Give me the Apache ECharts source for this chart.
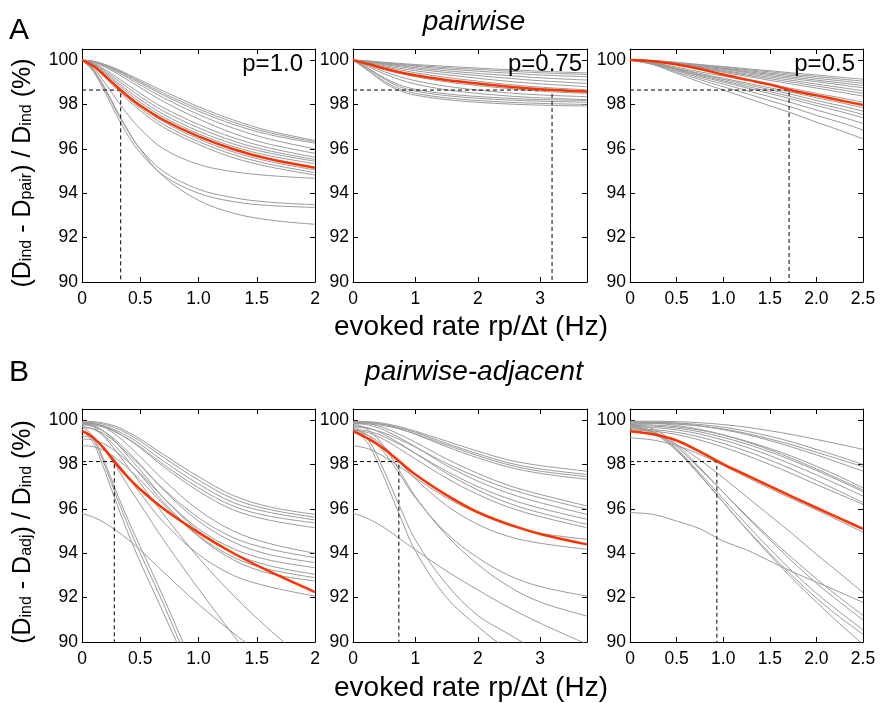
<!DOCTYPE html>
<html><head><meta charset="utf-8">
<script src="https://cdn.jsdelivr.net/npm/echarts@6/dist/echarts.min.js"></script>
<style>html,body{margin:0;padding:0;background:#fff}#c{width:880px;height:703px}</style>
</head><body><div id="c"></div>
<script>
// ---------- data ----------
var A1x = [0, 0.1, 0.2, 0.3, 0.4, 0.5, 0.7, 1.0, 1.3, 1.6, 2.0];
var A1red = [100, 99.72, 99.28, 98.8, 98.35, 97.95, 97.3, 96.56, 95.98, 95.55, 95.15];
var A1gray = [
  [100, 99.95, 99.8, 99.6, 99.35, 99.1, 98.6, 97.9, 97.3, 96.82, 96.38],
  [100, 99.94, 99.78, 99.56, 99.3, 99.03, 98.5, 97.8, 97.2, 96.74, 96.32],
  [100, 99.93, 99.75, 99.52, 99.25, 98.97, 98.42, 97.7, 97.1, 96.65, 96.26],
  [100, 99.92, 99.72, 99.47, 99.18, 98.88, 98.3, 97.55, 96.93, 96.45, 96.0],
  [100, 99.9, 99.68, 99.4, 99.08, 98.76, 98.13, 97.35, 96.7, 96.22, 95.8],
  [100, 99.86, 99.57, 99.22, 98.86, 98.5, 97.85, 97.1, 96.5, 96.05, 95.62],
  [100, 99.83, 99.5, 99.12, 98.73, 98.36, 97.7, 96.95, 96.35, 95.92, 95.52],
  [100, 99.81, 99.44, 99.02, 98.6, 98.22, 97.55, 96.8, 96.22, 95.82, 95.44],
  [100, 99.78, 99.38, 98.94, 98.5, 98.1, 97.43, 96.68, 96.1, 95.7, 95.33],
  [100, 99.75, 99.3, 98.82, 98.35, 97.93, 97.22, 96.45, 95.86, 95.44, 95.05],
  [100, 99.72, 99.25, 98.74, 98.26, 97.83, 97.1, 96.33, 95.74, 95.32, 94.93],
  [100, 99.7, 99.2, 98.67, 98.17, 97.72, 96.97, 96.2, 95.6, 95.2, 94.82],
  [100, 99.62, 98.95, 98.2, 97.5, 96.9, 96.0, 95.3, 94.97, 94.8, 94.67],
  [100, 99.52, 98.65, 97.65, 96.75, 96.0, 94.98, 94.18, 93.8, 93.6, 93.48],
  [100, 99.46, 98.52, 97.48, 96.56, 95.82, 94.8, 94.0, 93.62, 93.45, 93.36],
  [100, 99.56, 98.72, 97.72, 96.78, 95.97, 94.75, 93.68, 93.1, 92.8, 92.6]
];

var A2x = [0, 0.25, 0.5, 0.75, 1.0, 1.5, 2.0, 2.5, 3.0, 3.75];
var A2red = [100, 99.82, 99.62, 99.45, 99.32, 99.1, 98.94, 98.8, 98.69, 98.58];
var A2gray = [
  [100, 99.96, 99.9, 99.85, 99.8, 99.72, 99.64, 99.57, 99.5, 99.42],
  [100, 99.95, 99.88, 99.82, 99.76, 99.66, 99.58, 99.5, 99.43, 99.35],
  [100, 99.94, 99.86, 99.79, 99.72, 99.6, 99.5, 99.41, 99.33, 99.25],
  [100, 99.92, 99.83, 99.75, 99.66, 99.52, 99.4, 99.3, 99.2, 99.1],
  [100, 99.9, 99.8, 99.7, 99.6, 99.44, 99.3, 99.18, 99.07, 98.95],
  [100, 99.88, 99.75, 99.63, 99.52, 99.34, 99.18, 99.04, 98.93, 98.8],
  [100, 99.86, 99.7, 99.56, 99.43, 99.22, 99.05, 98.9, 98.78, 98.66],
  [100, 99.8, 99.58, 99.4, 99.25, 99.02, 98.85, 98.72, 98.6, 98.5],
  [100, 99.75, 99.48, 99.25, 99.07, 98.82, 98.65, 98.52, 98.43, 98.35],
  [100, 99.7, 99.38, 99.12, 98.92, 98.66, 98.5, 98.38, 98.3, 98.22],
  [100, 99.6, 99.15, 98.8, 98.6, 98.4, 98.28, 98.2, 98.15, 98.1],
  [100, 99.55, 99.05, 98.7, 98.5, 98.3, 98.18, 98.1, 98.05, 98.0],
  [100, 99.5, 98.98, 98.62, 98.42, 98.22, 98.1, 98.02, 97.97, 97.93],
  [100, 99.62, 99.2, 98.88, 98.68, 98.48, 98.36, 98.28, 98.22, 98.18]
];

var A3x = [0, 0.25, 0.5, 0.75, 1.0, 1.25, 1.5, 1.75, 2.0, 2.25, 2.5];
var A3red = [100, 99.95, 99.8, 99.6, 99.35, 99.12, 98.9, 98.62, 98.41, 98.19, 97.98];
var A3gray = [
  [100, 99.97, 99.9, 99.8, 99.71, 99.61, 99.52, 99.42, 99.33, 99.23, 99.14],
  [100, 99.97, 99.89, 99.78, 99.68, 99.57, 99.47, 99.36, 99.26, 99.15, 99.05],
  [100, 99.97, 99.87, 99.76, 99.64, 99.53, 99.41, 99.3, 99.18, 99.07, 98.95],
  [100, 99.97, 99.86, 99.74, 99.61, 99.48, 99.36, 99.23, 99.1, 98.98, 98.85],
  [100, 99.96, 99.85, 99.71, 99.58, 99.44, 99.3, 99.16, 99.03, 98.89, 98.75],
  [100, 99.96, 99.83, 99.68, 99.53, 99.38, 99.23, 99.08, 98.92, 98.77, 98.62],
  [100, 99.96, 99.82, 99.66, 99.49, 99.33, 99.16, 99.0, 98.83, 98.67, 98.5],
  [100, 99.95, 99.81, 99.63, 99.45, 99.27, 99.09, 98.91, 98.74, 98.56, 98.38],
  [100, 99.89, 99.68, 99.47, 99.28, 99.09, 98.9, 98.71, 98.5, 98.31, 98.1],
  [100, 99.87, 99.63, 99.4, 99.18, 98.97, 98.75, 98.54, 98.3, 98.09, 97.85],
  [100, 99.86, 99.61, 99.36, 99.13, 98.9, 98.67, 98.44, 98.18, 97.95, 97.7],
  [100, 99.85, 99.58, 99.31, 99.07, 98.82, 98.58, 98.33, 98.06, 97.82, 97.55],
  [100, 99.84, 99.56, 99.27, 99.01, 98.75, 98.49, 98.23, 97.95, 97.69, 97.4],
  [100, 99.83, 99.52, 99.2, 98.92, 98.63, 98.35, 98.06, 97.75, 97.46, 97.15],
  [100, 99.81, 99.46, 99.12, 98.8, 98.49, 98.17, 97.86, 97.51, 97.2, 96.85],
  [100, 99.79, 99.4, 99.01, 98.65, 98.3, 97.94, 97.59, 97.2, 96.84, 96.45]
];

var B1x = [0, 0.1, 0.2, 0.3, 0.4, 0.5, 0.7, 1.0, 1.3, 1.6, 2.0];
var B1red = [99.5, 99.2, 98.65, 97.98, 97.4, 96.88, 96.0, 94.93, 94.0, 93.2, 92.25];
var B1gray = [
  [99.95, 99.93, 99.85, 99.7, 99.45, 99.15, 98.45, 97.45, 96.6, 96.1, 95.75],
  [99.9, 99.88, 99.8, 99.62, 99.37, 99.05, 98.32, 97.3, 96.45, 95.98, 95.62],
  [99.85, 99.82, 99.72, 99.52, 99.25, 98.92, 98.15, 97.12, 96.28, 95.85, 95.5],
  [99.8, 99.78, 99.65, 99.43, 99.14, 98.8, 98.0, 96.95, 96.12, 95.68, 95.37],
  [99.88, 99.84, 99.7, 99.45, 99.12, 98.75, 97.9, 96.8, 95.95, 95.5, 95.15],
  [99.9, 99.85, 99.65, 99.3, 98.85, 98.35, 97.3, 95.95, 95.0, 94.45, 94.0],
  [99.7, 99.6, 99.35, 98.95, 98.45, 97.95, 96.9, 95.6, 94.7, 94.2, 93.8],
  [99.8, 99.7, 99.45, 99.05, 98.55, 98.0, 96.85, 95.45, 94.5, 93.95, 93.58],
  [99.15, 99.1, 98.9, 98.55, 98.1, 97.6, 96.5, 95.1, 94.2, 93.7, 93.35],
  [99.85, 99.75, 99.45, 98.95, 98.35, 97.75, 96.5, 95.0, 94.0, 93.45, 93.05],
  [99.7, 99.58, 99.25, 98.75, 98.15, 97.55, 96.3, 94.8, 93.82, 93.28, 92.9],
  [98.85, 98.8, 98.6, 98.25, 97.8, 97.3, 96.2, 94.75, 93.7, 93.1, 92.75],
  [99.3, 99.15, 98.7, 98.1, 97.4, 96.7, 95.4, 93.95, 93.0, 92.5, 92.07],
  [99.7, 99.1, 97.9, 96.5, 95.2, 94.0, 91.7, 88.0, 84.5, 81.0, 76.0],
  [99.6, 98.95, 97.65, 96.2, 94.85, 93.6, 91.3, 87.8, 84.2, 80.5, 75.5],
  [99.8, 99.2, 98.05, 96.7, 95.45, 94.3, 92.0, 88.4, 85.0, 81.5, 77.0],
  [99.5, 99.2, 98.6, 97.85, 97.0, 96.2, 94.6, 92.4, 90.3, 88.3, 86.0],
  [99.9, 99.7, 99.2, 98.55, 97.85, 97.15, 95.75, 93.8, 92.1, 90.6, 88.8],
  [95.8, 95.62, 95.35, 95.0, 94.6, 94.15, 93.15, 91.7, 90.4, 89.2, 87.6]
];

var B2x = [0, 0.25, 0.5, 0.75, 1.0, 1.5, 2.0, 2.5, 3.0, 3.75];
var B2red = [99.5, 99.15, 98.7, 98.12, 97.55, 96.62, 95.85, 95.3, 94.87, 94.4];
var B2gray = [
  [99.95, 99.93, 99.85, 99.7, 99.5, 99.05, 98.6, 98.2, 97.95, 97.7],
  [99.9, 99.88, 99.8, 99.65, 99.45, 98.95, 98.48, 98.07, 97.8, 97.55],
  [99.85, 99.83, 99.75, 99.6, 99.38, 98.88, 98.4, 97.98, 97.7, 97.45],
  [99.92, 99.9, 99.8, 99.6, 99.36, 98.8, 98.3, 97.88, 97.6, 97.33],
  [99.9, 99.85, 99.65, 99.35, 99.0, 98.25, 97.6, 97.05, 96.65, 96.13],
  [99.7, 99.62, 99.42, 99.12, 98.78, 98.05, 97.42, 96.9, 96.5, 95.98],
  [99.85, 99.78, 99.55, 99.2, 98.8, 97.95, 97.25, 96.7, 96.28, 95.75],
  [99.6, 99.5, 99.25, 98.9, 98.5, 97.7, 97.0, 96.45, 96.03, 95.53],
  [99.75, 99.65, 99.35, 98.95, 98.5, 97.6, 96.85, 96.25, 95.82, 95.3],
  [99.55, 99.43, 99.12, 98.7, 98.25, 97.38, 96.65, 96.07, 95.65, 95.15],
  [98.85, 98.7, 98.35, 97.9, 97.4, 96.5, 95.8, 95.25, 94.9, 94.63],
  [99.5, 99.3, 98.8, 98.1, 97.35, 96.15, 95.3, 94.75, 94.45, 94.18],
  [99.7, 98.9, 97.4, 95.7, 94.1, 92.0, 90.7, 89.6, 88.7, 87.5],
  [99.8, 99.1, 97.7, 96.1, 94.6, 92.6, 91.2, 90.35, 89.5, 88.1],
  [99.6, 99.3, 98.55, 97.55, 96.5, 94.9, 93.8, 93.0, 92.5, 92.07],
  [99.85, 99.55, 98.8, 97.7, 96.55, 94.8, 93.5, 92.5, 91.8, 91.17],
  [95.8, 95.55, 95.15, 94.65, 94.15, 93.2, 92.35, 91.55, 90.85, 89.9]
];

var B3x = [0, 0.25, 0.5, 0.75, 1.0, 1.25, 1.5, 1.75, 2.0, 2.25, 2.5];
var B3red = [99.5, 99.36, 99.08, 98.58, 98.02, 97.52, 97.02, 96.53, 96.05, 95.57, 95.1];
var B3gray = [
  [99.95, 99.95, 99.93, 99.88, 99.8, 99.68, 99.52, 99.34, 99.13, 98.91, 98.68],
  [99.9, 99.9, 99.87, 99.8, 99.68, 99.5, 99.27, 99.0, 98.68, 98.35, 98.0],
  [99.85, 99.85, 99.82, 99.73, 99.6, 99.4, 99.15, 98.87, 98.55, 98.23, 97.9],
  [99.92, 99.91, 99.85, 99.74, 99.57, 99.35, 99.08, 98.77, 98.43, 98.07, 97.7],
  [99.8, 99.78, 99.7, 99.55, 99.33, 99.05, 98.72, 98.35, 97.92, 97.45, 96.95],
  [99.88, 99.86, 99.76, 99.58, 99.33, 99.02, 98.66, 98.25, 97.8, 97.33, 96.85],
  [99.75, 99.73, 99.64, 99.47, 99.22, 98.92, 98.57, 98.17, 97.73, 97.26, 96.78],
  [99.7, 99.67, 99.56, 99.37, 99.1, 98.78, 98.4, 97.98, 97.53, 97.06, 96.58],
  [99.6, 99.57, 99.45, 99.24, 98.95, 98.6, 98.2, 97.76, 97.28, 96.79, 96.28],
  [99.55, 99.5, 99.35, 99.1, 98.78, 98.41, 98.0, 97.56, 97.1, 96.65, 96.2],
  [99.2, 99.1, 98.85, 98.45, 97.95, 97.43, 96.92, 96.43, 95.95, 95.45, 94.95],
  [99.75, 99.5, 98.8, 97.8, 96.75, 95.7, 94.7, 93.75, 92.85, 92.0, 91.2],
  [99.8, 99.6, 98.9, 97.85, 96.75, 95.65, 94.6, 93.6, 92.65, 91.8, 91.0],
  [99.7, 99.45, 98.7, 97.6, 96.45, 95.3, 94.2, 93.15, 92.2, 91.35, 90.55],
  [99.65, 99.4, 98.62, 97.5, 96.3, 95.1, 94.0, 92.95, 91.98, 91.12, 90.35],
  [99.75, 99.48, 98.68, 97.52, 96.3, 95.08, 93.92, 92.82, 91.8, 90.82, 89.9],
  [99.5, 99.35, 98.9, 98.2, 97.4, 96.55, 95.7, 94.85, 93.95, 93.1, 92.23],
  [95.83, 95.75, 95.45, 95.1, 94.55, 94.15, 93.65, 93.15, 92.7, 92.25, 91.78]
];

// dashed guide lines (x where red curve reaches threshold, threshold value)
var dashX = [0.332, 3.19, 1.707, 0.277, 0.735, 0.932];
var dashY = [98.65, 98.65, 98.65, 98.13, 98.13, 98.13];

// axes
var xMax = [2, 3.75, 2.5, 2, 3.75, 2.5];
var xTicks1 = [0, 0.5, 1, 1.5, 2];       var xLabels1 = ['0', '0.5', '1.0', '1.5', '2'];
var xTicks2 = [0, 1, 2, 3];              var xLabels2 = ['0', '1', '2', '3'];
var xTicks3 = [0, 0.5, 1, 1.5, 2, 2.5];  var xLabels3 = ['0', '0.5', '1.0', '1.5', '2.0', '2.5'];
var yTicks = [90, 92, 94, 96, 98, 100];  var yLabels = ['90', '92', '94', '96', '98', '100'];
var pLabels = ['p=1.0', 'p=0.75', 'p=0.5'];

// ---------- chart ----------
var FONT = "'Liberation Sans',Arial,Helvetica,sans-serif";
function panelSeries(xs, grays, red) {
  return {
    grays: grays.map(function (g) { return xs.map(function (x, k) { return [x, g[k]]; }); }),
    red: xs.map(function (x, k) { return [x, red[k]]; })
  };
}
var panels = [panelSeries(A1x, A1gray, A1red), panelSeries(A2x, A2gray, A2red), panelSeries(A3x, A3gray, A3red),
              panelSeries(B1x, B1gray, B1red), panelSeries(B2x, B2gray, B2red), panelSeries(B3x, B3gray, B3red)];
var xTickSets = [[xTicks1, xLabels1], [xTicks2, xLabels2], [xTicks3, xLabels3]];
var lefts = [82, 353, 630], widths = [233, 234, 233];
var tops = [49, 409];

function fmt(ticks, labels) {
  return function (v) {
    for (var i = 0; i < ticks.length; i++) if (Math.abs(ticks[i] - v) < 1e-9) return labels[i];
    return '';
  };
}

var grids = [], xAxes = [], yAxes = [], series = [];
for (var p = 0; p < 6; p++) {
  var col = p % 3, row = Math.floor(p / 3);
  grids.push({ left: lefts[col], top: tops[row], width: widths[col], height: 233, show: false });
  var ts = xTickSets[col];
  var axLine = { show: true, onZero: false, lineStyle: { color: '#000', width: 1 } };
  var axTick = { show: true, inside: true, length: 5, lineStyle: { color: '#000', width: 1 } };
  var xint = col === 1 ? 1 : 0.5;
  xAxes.push({ type: 'value', gridIndex: p, min: 0, max: xMax[p], interval: xint, position: 'bottom',
    axisLine: axLine, axisTick: axTick, splitLine: { show: false },
    axisLabel: { formatter: fmt(ts[0], ts[1]), fontSize: 17.5, color: '#000', margin: 8, fontFamily: FONT,
      showMinLabel: true, showMaxLabel: true } });
  xAxes.push({ type: 'value', gridIndex: p, min: 0, max: xMax[p], interval: xint, position: 'top',
    axisLine: axLine, axisTick: axTick, splitLine: { show: false }, axisLabel: { show: false } });
  yAxes.push({ type: 'value', gridIndex: p, min: 90, max: 100.5, interval: 2, position: 'left',
    axisLine: axLine, axisTick: axTick, splitLine: { show: false },
    axisLabel: { formatter: fmt(yTicks, yLabels), fontSize: 17.5, color: '#000', margin: 4, fontFamily: FONT,
      showMinLabel: true, showMaxLabel: true } });
  yAxes.push({ type: 'value', gridIndex: p, min: 90, max: 100.5, interval: 2, position: 'right',
    axisLine: axLine, axisTick: axTick, splitLine: { show: false }, axisLabel: { show: false } });

  var ps = panels[p];
  ps.grays.forEach(function (d) {
    series.push({ type: 'line', xAxisIndex: 2 * p, yAxisIndex: 2 * p, data: d, showSymbol: false,
      smooth: 0.35, clip: true, silent: true, z: 2,
      lineStyle: { color: '#9a9a9a', width: 1 } });
  });
  series.push({ type: 'line', xAxisIndex: 2 * p, yAxisIndex: 2 * p, data: ps.red, showSymbol: false,
    smooth: 0.35, clip: true, silent: true, z: 4,
    lineStyle: { color: '#ff3300', width: 2.5 } });
  series.push({ type: 'line', xAxisIndex: 2 * p, yAxisIndex: 2 * p, showSymbol: false, silent: true, z: 3,
    data: [[0, dashY[p]], [dashX[p], dashY[p]], [dashX[p], 90]],
    lineStyle: { color: '#000', width: 1, type: [4, 3] } });
}

function yTitle(y, sub) {
  return { type: 'text', x: 23, y: y, rotation: Math.PI / 2,
    style: { text: '{n|(D}{s|ind}{n| - D}{s|' + sub + '}{n|) / D}{s|ind}{n| (%)}',
      align: 'center', verticalAlign: 'middle',
      rich: { n: { fontSize: 25, fontFamily: FONT, fill: '#000', lineHeight: 24, verticalAlign: 'top' },
              s: { fontSize: 16, fontFamily: FONT, fill: '#000', lineHeight: 8, verticalAlign: 'bottom' } } } };
}
var graphics = [
  { type: 'text', x: 9, y: 31, style: { text: 'A', fontSize: 30, fontFamily: FONT, fill: '#000', verticalAlign: 'middle' } },
  { type: 'text', x: 9, y: 373, style: { text: 'B', fontSize: 30, fontFamily: FONT, fill: '#000', verticalAlign: 'middle' } },
  { type: 'text', x: 474, y: 22, style: { text: 'pairwise', fontSize: 28, fontStyle: 'italic', fontFamily: FONT, fill: '#000', align: 'center', verticalAlign: 'middle' } },
  { type: 'text', x: 474, y: 372, style: { text: 'pairwise-adjacent', fontSize: 28, fontStyle: 'italic', fontFamily: FONT, fill: '#000', align: 'center', verticalAlign: 'middle' } },
  { type: 'text', x: 471, y: 327, style: { text: 'evoked rate rp/\u0394t (Hz)', fontSize: 28, fontFamily: FONT, fill: '#000', align: 'center', verticalAlign: 'middle' } },
  { type: 'text', x: 471, y: 688, style: { text: 'evoked rate rp/\u0394t (Hz)', fontSize: 28, fontFamily: FONT, fill: '#000', align: 'center', verticalAlign: 'middle' } },
  yTitle(173, 'pair'),
  yTitle(532, 'adj')
];
var pRight = [303, 582, 855];
for (var i = 0; i < 3; i++) {
  graphics.push({ type: 'text', x: pRight[i], y: 64, z: 10,
    style: { text: pLabels[i], fontSize: 24, fontFamily: FONT, fill: '#000', align: 'right', verticalAlign: 'middle' } });
}

var chart = echarts.init(document.getElementById('c'), null, { renderer: 'canvas' });
chart.setOption({
  animation: false,
  backgroundColor: '#fff',
  grid: grids, xAxis: xAxes, yAxis: yAxes, series: series,
  graphic: graphics
});
</script></body></html>
